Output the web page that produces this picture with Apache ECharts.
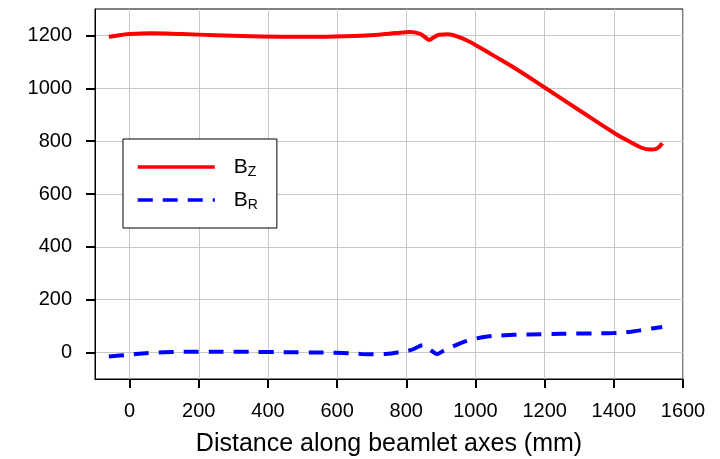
<!DOCTYPE html>
<html>
<head>
<meta charset="utf-8">
<script src="https://cdn.jsdelivr.net/npm/echarts@6/dist/echarts.min.js"></script>
<style>
    html, body { margin: 0; padding: 0; background: #fff; }
    #chart { width: 720px; height: 459px; }
</style>
</head>
<body>
<div id="chart"></div>
<script>
// data (mm, gauss)
const bzX = [-60, -30, 0, 60, 150, 250, 350, 450, 550, 650, 720, 770, 810, 838, 852, 866, 880, 895, 920, 950, 980, 1005, 1060, 1120, 1200, 1300, 1400, 1450, 1480, 1505, 1525, 1540];
const bzY = [1195, 1201, 1205, 1208, 1205, 1201, 1197, 1195, 1195, 1198, 1203, 1209, 1213, 1207, 1196, 1183, 1193, 1203, 1204, 1195, 1178, 1160, 1118, 1071, 1003, 917, 832, 795, 775, 768, 772, 792];
const brX = [-60, -10, 60, 125, 200, 300, 400, 500, 600, 670, 725, 773, 812, 835, 848, 860, 875, 889, 905, 918, 957, 995, 1034, 1110, 1200, 1300, 1400, 1450, 1490, 1540];
const brY = [-15, -9, -1, 2, 3, 3, 2, 1, -1, -5, -6, 0, 9, 22, 28, 20, 5, -5, 5, 13, 36, 51, 61, 67, 70, 72, 74, 79, 87, 97];
const xTicks = [0, 200, 400, 600, 800, 1000, 1200, 1400, 1600];
const yTicks = [0, 200, 400, 600, 800, 1000, 1200];

const font = 'Liberation Sans, Arial, sans-serif';
const chart = echarts.init(document.getElementById('chart'));

const pairs = (xs, ys) => xs.map((x, i) => [x, ys[i]]);

// plot box in pixels, and the inner box spanning only the labelled tick range
const box = { left: 95, right: 37, top: 9, bottom: 80 };
const w = 720 - box.left - box.right, h = 459 - box.top - box.bottom;
const padL = w * 100 / 1700, padT = h * 100 / 1400;

const gridLine = { show: true, lineStyle: { color: '#c8c8c8', width: 1 } };

const option = {
    animation: false,
    grid: [
        {
            show: true,
            left: box.left, right: box.right, top: box.top, bottom: box.bottom,
            outerBoundsMode: 'none',
            borderColor: '#000',
            borderWidth: 1,
            backgroundColor: 'transparent'
        },
        {
            left: box.left + padL, right: box.right, top: box.top + padT, bottom: box.bottom + padT,
            outerBoundsMode: 'none'
        }
    ],
    legend: {
        orient: 'vertical',
        left: 123,
        top: 139,
        padding: [16, 19, 16, 13],
        itemGap: 9,
        itemWidth: 77,
        itemHeight: 14,
        borderColor: '#000',
        borderWidth: 1,
        backgroundColor: '#fff',
        itemStyle: { opacity: 0 },
        lineStyle: { width: 3.5 },
        textStyle: {
            fontFamily: font,
            color: '#000',
            rich: {
                b: { fontSize: 21, fontFamily: font, color: '#000', lineHeight: 24, padding: [0, 0, 0, 14] },
                s: { fontSize: 14, fontFamily: font, color: '#000', lineHeight: 24, padding: [10, 0, 0, 0] }
            }
        },
        formatter: name => name === 'BZ' ? '{b|B}{s|Z}' : '{b|B}{s|R}',
        data: ['BZ', 'BR']
    },
    xAxis: [
        {
            type: 'value',
            gridIndex: 0,
            min: -100,
            max: 1600,
            name: 'Distance along beamlet axes (mm)',
            nameLocation: 'middle',
            nameGap: 53,
            nameTextStyle: { fontFamily: font, fontSize: 25, color: '#000' },
            axisLine: { show: true, onZero: false, lineStyle: { color: '#000', width: 1 } },
            axisTick: { show: false, customValues: xTicks },
            axisLabel: { customValues: xTicks, margin: 22, fontFamily: font, fontSize: 20, color: '#000', formatter: v => String(v) },
            splitLine: Object.assign({ customValues: xTicks }, gridLine)
        },
        {
            // ticks only, on the labelled range, pushed down onto the frame
            type: 'value',
            gridIndex: 1,
            min: 0,
            max: 1600,
            interval: 200,
            offset: padT,
            axisLine: { show: false, onZero: false },
            axisTick: { show: true, length: 9, lineStyle: { color: '#000', width: 2 } },
            axisLabel: { show: false },
            splitLine: { show: false }
        }
    ],
    yAxis: [
        {
            type: 'value',
            gridIndex: 0,
            min: -100,
            max: 1300,
            axisLine: { show: true, onZero: false, lineStyle: { color: '#000', width: 1 } },
            axisTick: { show: false, customValues: yTicks },
            axisLabel: { customValues: yTicks, margin: 23, fontFamily: font, fontSize: 20, color: '#000', formatter: v => String(v) },
            splitLine: Object.assign({ customValues: yTicks }, gridLine)
        },
        {
            type: 'value',
            gridIndex: 1,
            min: 0,
            max: 1200,
            interval: 200,
            offset: padL,
            axisLine: { show: false, onZero: false },
            axisTick: { show: true, length: 9, lineStyle: { color: '#000', width: 2 } },
            axisLabel: { show: false },
            splitLine: { show: false }
        }
    ],
    series: [
        {
            name: 'BZ',
            type: 'line',
            xAxisIndex: 0,
            yAxisIndex: 0,
            data: pairs(bzX, bzY),
            smooth: 0.35,
            showSymbol: false,
            symbol: 'none',
            lineStyle: { color: '#ff0000', width: 4 },
            itemStyle: { color: '#ff0000' },
            z: 3
        },
        {
            name: 'BR',
            type: 'line',
            xAxisIndex: 0,
            yAxisIndex: 0,
            data: pairs(brX, brY),
            smooth: 0.35,
            showSymbol: false,
            symbol: 'none',
            lineStyle: { color: '#0000ff', width: 4, type: [15, 10] },
            itemStyle: { color: '#0000ff' },
            z: 3
        }
    ]
};
chart.setOption(option);
</script>
</body>
</html>
